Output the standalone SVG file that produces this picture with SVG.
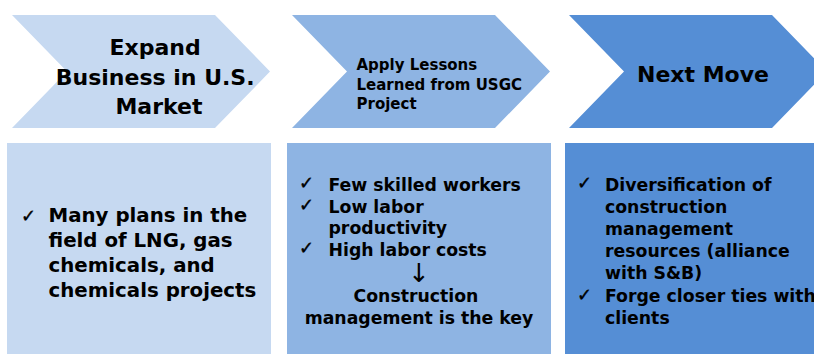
<svg xmlns="http://www.w3.org/2000/svg" width="814" height="354" viewBox="0 0 814 354">
  <style>
    .t { font-family: "DejaVu Sans", "Liberation Sans", sans-serif; font-weight: bold; fill: #000; }
    .ck { font-family: "DejaVu Sans", sans-serif; font-weight: normal; fill: #000; stroke: #000; stroke-width: 0.4; font-size: 18px; }
    .arr { font-family: "DejaVu Sans", sans-serif; font-weight: normal; fill: #000; font-size: 26px; }
    .s1 { fill: #C6D9F1; }
    .s2 { fill: #8EB4E3; }
    .s3 { fill: #558ED5; }
  </style>

  <!-- Step 1 -->
  <g id="step1">
    <polygon class="s1" points="12,15 215,15 270,71.5 215,128 12,128 67,71.5"/>
    <text class="t" font-size="22" text-anchor="middle">
      <tspan x="159" y="55">Expand</tspan>
      <tspan x="159" y="84.5">Business in U.S.</tspan>
      <tspan x="159" y="113.5">Market</tspan>
    </text>
  </g>

  <!-- Step 2 -->
  <g id="step2">
    <polygon class="s2" points="292,15 495,15 550,71.5 495,128 292,128 347,71.5"/>
    <text class="t" font-size="15">
      <tspan x="356.5" y="70">Apply Lessons</tspan>
      <tspan x="356.5" y="89.5">Learned from USGC</tspan>
      <tspan x="356.5" y="109">Project</tspan>
    </text>
  </g>

  <!-- Step 3 -->
  <g id="step3">
    <polygon class="s3" points="569,15 772,15 827,71.5 772,128 569,128 624,71.5"/>
    <text class="t" font-size="22" x="637" y="82">Next Move</text>
  </g>

  <!-- Detail panel 1 -->
  <g id="detail1">
    <rect class="s1" x="7" y="143" width="264" height="211"/>
    <text class="ck" x="21" y="222">✓</text>
    <text class="t" font-size="19.8">
      <tspan x="48.5" y="222">Many plans in the</tspan>
      <tspan x="48.5" y="247">field of LNG, gas</tspan>
      <tspan x="48.5" y="272">chemicals, and</tspan>
      <tspan x="48.5" y="297">chemicals projects</tspan>
    </text>
  </g>

  <!-- Detail panel 2 -->
  <g id="detail2">
    <rect class="s2" x="287" y="143" width="264" height="211"/>
    <text class="ck" x="299" y="189">✓</text>
    <text class="ck" x="299" y="211">✓</text>
    <text class="ck" x="299" y="254">✓</text>
    <text class="t" font-size="17.3">
      <tspan x="328.5" y="190.5">Few skilled workers</tspan>
      <tspan x="328.5" y="212.5">Low labor</tspan>
      <tspan x="328.5" y="234">productivity</tspan>
      <tspan x="328.5" y="255.5">High labor costs</tspan>
    </text>
    <text class="arr" text-anchor="middle" x="419" y="282">↓</text>
    <text class="t" font-size="17.3" text-anchor="middle">
      <tspan x="419" y="302">Construction</tspan>
      <tspan x="419" y="324">management is the key</tspan>
    </text>
  </g>

  <!-- Detail panel 3 -->
  <g id="detail3">
    <rect class="s3" x="565" y="143" width="260" height="211"/>
    <text class="ck" x="577" y="189">✓</text>
    <text class="ck" x="577" y="301">✓</text>
    <text class="t" font-size="17.3">
      <tspan x="605" y="190.5">Diversification of</tspan>
      <tspan x="605" y="212.5">construction</tspan>
      <tspan x="605" y="234.5">management</tspan>
      <tspan x="605" y="257">resources (alliance</tspan>
      <tspan x="605" y="279">with S&amp;B)</tspan>
      <tspan x="605" y="302">Forge closer ties with</tspan>
      <tspan x="605" y="324">clients</tspan>
    </text>
  </g>

  <!-- no connectors: the chevrons themselves carry the flow -->
  <g id="connectors"/>
</svg>
